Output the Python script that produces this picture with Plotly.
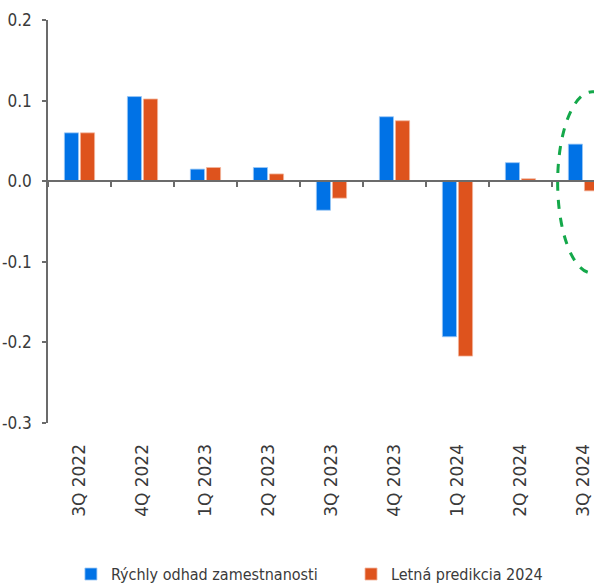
import plotly.graph_objects as go

categories = ["3Q 2022", "4Q 2022", "1Q 2023", "2Q 2023", "3Q 2023",
              "4Q 2023", "1Q 2024", "2Q 2024", "3Q 2024"]
fast_estimate = [0.060, 0.105, 0.015, 0.017, -0.036, 0.080, -0.193, 0.023, 0.046]
summer_forecast = [0.060, 0.102, 0.017, 0.009, -0.021, 0.075, -0.217, 0.003, -0.012]
series_names = ["Rýchly odhad zamestnanosti", "Letná predikcia 2024"]
y_tick_vals = [0.2, 0.1, 0.0, -0.1, -0.2, -0.3]
y_tick_text = ["0.2", "0.1", "0.0", "-0.1", "-0.2", "-0.3"]

# highlight ellipse around the last quarter (data coordinates)
ellipse_x = [7.59, 8.69]
ellipse_y = [-0.114, 0.111]

BLUE = "#0072E6"
ORANGE = "#DE531D"
AXIS = "#6b6b6b"
TXT = "#3a3a3a"
NARROW = "DejaVu Sans Condensed, Liberation Sans Narrow, Roboto Condensed, Roboto, sans-serif"

fig = go.Figure()
fig.add_bar(x=categories, y=fast_estimate, name=series_names[0], legend="legend",
            marker=dict(color=BLUE, line=dict(color="#9cc8f5", width=0.8)))
fig.add_bar(x=categories, y=summer_forecast, name=series_names[1], legend="legend2",
            marker=dict(color=ORANGE, line=dict(color="#f3b59c", width=0.8)))

fig.add_shape(type="circle", xref="x", yref="y",
              x0=ellipse_x[0], x1=ellipse_x[1], y0=ellipse_y[0], y1=ellipse_y[1],
              line=dict(color="#14A84A", width=3, dash="dash"), layer="above")

y_min, y_max = -0.3, 0.2
zero_pos = (0 - y_min) / (y_max - y_min)

legend_common = dict(orientation="h", yanchor="middle", y=-0.375, xanchor="left",
                     font=dict(family=NARROW, size=16, color=TXT),
                     itemclick=False, bgcolor="rgba(0,0,0,0)")

fig.update_layout(
    width=594, height=584, autosize=False,
    margin=dict(l=48, r=0, t=20, b=161, pad=0, autoexpand=False),
    plot_bgcolor="white", paper_bgcolor="white",
    barmode="group", bargap=0.49, bargroupgap=0.12,
    showlegend=True,
    legend=dict(x=0.042, **legend_common),
    legend2=dict(x=0.555, **legend_common),
    xaxis=dict(type="category", categoryorder="array", categoryarray=categories,
               range=[-0.5, 8.167], anchor="free", position=zero_pos,
               showline=True, linecolor=AXIS, linewidth=2,
               ticks="outside", tickson="boundaries", ticklen=5, tickwidth=1.5,
               tickcolor=AXIS, tickangle=-90, ticklabelstandoff=255,
               tickfont=dict(family="DejaVu Sans", size=17, color=TXT),
               showgrid=False, zeroline=False, fixedrange=True, automargin=False),
    yaxis=dict(range=[y_min, y_max], tickvals=y_tick_vals, ticktext=y_tick_text,
               showline=True, linecolor=AXIS, linewidth=1.5,
               ticks="outside", ticklen=4, tickwidth=1.5, tickcolor=AXIS,
               ticklabelstandoff=7,
               tickfont=dict(family=NARROW, size=17, color=TXT),
               showgrid=False, zeroline=False, fixedrange=True, automargin=False),
)

fig.write_html("out.html", config={"displayModeBar": False},
               post_script="document.body.style.margin='0';")
